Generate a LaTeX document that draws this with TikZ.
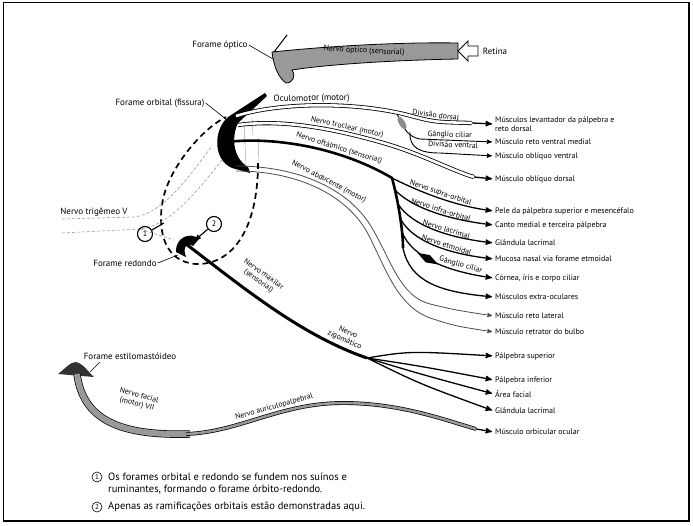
\documentclass[tikz,border=0pt]{standalone}
\usepackage{fontspec}
\setmainfont{PT Sans}
\usetikzlibrary{arrows,positioning,shapes.geometric}

\begin{document}
\begin{tikzpicture}[x=1pt,y=-1pt,>=stealth',
  every node/.style={font=\fontsize{8}{9.5}\selectfont,inner sep=1pt},
  alvo/.style={anchor=west},
  titulo/.style={font=\fontsize{9}{10}\selectfont},
  rotulo/.style={font=\fontsize{7.8}{8.6}\selectfont,align=center,sloped},
  nota/.style={font=\fontsize{10.5}{12}\selectfont,anchor=west,align=left},
  num/.style={draw,circle,line width=1.1pt,minimum size=15pt,inner sep=0pt,font=\fontsize{8}{9}\selectfont},
  numnota/.style={draw,circle,line width=0.6pt,minimum size=10pt,inner sep=0pt,font=\fontsize{7}{8}\selectfont},
  ganglio/.style={diamond,fill,aspect=2.6,inner sep=0pt,minimum width=24pt,minimum height=9pt},
  gangcinza/.style={ellipse,fill=black!45,inner sep=0pt,minimum width=14pt,minimum height=6pt},
  nervo/.style={draw,line width=2.6pt},
  tubo/.style={draw,line width=0.8pt,double=white,double distance=2.6pt},
  ramo/.style={draw,line width=1.3pt,->,shorten >=2pt},
  fino/.style={draw,line width=0.9pt,->,shorten >=2pt},
  abd/.style={draw=black!70,line width=0.8pt,->,shorten >=2pt},
  guia/.style={draw,line width=0.6pt},
  furo/.style={draw,line width=1.7pt,dash pattern=on 6pt off 4pt},
  trig/.style={draw=black!40,line width=0.6pt,densely dashed},
  faixa/.style={draw,line width=0.7pt,double=black!40}]

  \useasboundingbox (0,0) rectangle (693,525);
  % moldura
  \draw[line width=1pt] (3,2) rectangle (689,521);
  \draw[line width=2.5pt] (689,3) -- (689,521) -- (4,521);

  % alvos
  \node[alvo,align=left] (lev)  at (494,124) {Músculos levantador da pálpebra e\\reto dorsal};
  \node[alvo] (rvm)  at (494,142) {Músculo reto ventral medial};
  \node[alvo] (obv)  at (494,156) {Músculo oblíquo ventral};
  \node[alvo] (obd)  at (494,179) {Músculo oblíquo dorsal};
  \node[alvo] (pele) at (494,211) {Pele da pálpebra superior e mesencéfalo};
  \node[alvo] (canto) at (494,225) {Canto medial e terceira pálpebra};
  \node[alvo] (glo)  at (494,243) {Glândula lacrimal};
  \node[alvo] (muc)  at (494,259) {Mucosa nasal via forame etmoidal};
  \node[alvo] (cor)  at (494,278) {Córnea, íris e corpo ciliar};
  \node[alvo] (mex)  at (494,297) {Músculos extra-oculares};
  \node[alvo] (mrl)  at (494,316) {Músculo reto lateral};
  \node[alvo] (mrb)  at (494,332) {Músculo retrator do bulbo};
  \node[alvo] (psup) at (494,356) {Pálpebra superior};
  \node[alvo] (pinf) at (494,380) {Pálpebra inferior};
  \node[alvo] (area) at (494,394) {Área facial};
  \node[alvo] (glz)  at (494,411) {Glândula lacrimal};
  \node[alvo] (orb)  at (494,432) {Músculo orbicular ocular};

  % nervo optico
  \filldraw[fill=black!40,line width=0.8pt] (272,52) .. controls (330,46) and (400,42) .. (458,43)
    -- (458,59) .. controls (400,60) and (330,64) .. (292,70)
    .. controls (296,76) and (293,83) .. (286,83) .. controls (279,78) and (274,68) .. (272,52) -- cycle;
  \draw[line width=1pt] (274,52) -- (287,35);
  \node[rotate=-3] (opt) at (364,51) {Nervo óptico (sensorial)};
  \filldraw[fill=white,line width=0.8pt] (458,51) -- (468,41) -- (468,46) -- (478,46) -- (478,56) -- (468,56) -- (468,61) -- cycle;
  \node[titulo] (ret) at (495,51) {Retina};
  \node[titulo] (fop) at (220,45) {Forame óptico};
  \coordinate (op) at (273,59);
  \draw[guia] (fop.east) -- (op);

  % raiz orbital
  \fill (265,93) -- (228,117) .. controls (213,130) and (213,160) .. (232,168) -- (250,173) -- (248,167)
    .. controls (235,160) and (230,140) .. (238,123) -- (267,96) -- cycle;
  \draw[black!35,line width=0.5pt] (244,121) -- (246,166) (252,118) -- (253,135) (258,138) -- (259,162);
  \node[titulo] (ffo) at (160,103) {Forame orbital (fissura)};
  \coordinate (fo) at (227,120);
  \draw[guia] (ffo.east) -- (fo);

  % oculomotor
  \draw[tubo] (236,116) .. controls (280,102) and (360,101) .. (415,117)
      node[pos=.45,above=1pt,rotulo,font=\fontsize{9}{10}\selectfont] (ocm) {Oculomotor (motor)}
    .. controls (435,122) .. (472,123) node[pos=.45,above=2pt,rotulo] (dd) {Divisão dorsal} coordinate (ocE);
  \draw[ramo] (ocE) -- (lev.west);
  \coordinate (vd) at (397,114);
  \draw[fino] (vd) .. controls (404,126) and (405,136) .. (420,139)
    -- node[pos=.4,above,rotulo] (gc1) {Gânglio ciliar} node[pos=.45,below,rotulo] (dv) {Divisão ventral} (rvm.west);
  \draw[fino] (410,132) .. controls (409,148) and (420,153) .. (440,153) -- (obv.west);
  \node[gangcinza,rotate=-60] (gc0) at (402,123) {};

  % troclear
  \draw[tubo] (238,125) .. controls (275,120) and (320,125) .. (380,142)
      node[pos=.8,above=1pt,rotulo] (tro) {Nervo troclear (motor)}
    .. controls (420,153) and (455,172) .. (474,177) coordinate (trE);
  \draw[ramo] (trE) -- (obd.west);

  % oftalmico
  \draw[nervo] (226,142) .. controls (280,136) and (345,150) .. (392,178) coordinate (of1)
      node[pos=.65,above,rotulo] (oft) {Nervo oftálmico (sensorial)}
    .. controls (398,200) and (403,230) .. (403,248) coordinate (of6);
  \draw[ramo] (of1) .. controls (420,192) and (455,206) .. (pele.west) node[pos=.5,above,rotulo] (sup) {Nervo supra-orbital};
  \draw[ramo] (395,190) .. controls (412,208) and (450,220) .. (canto.west) node[pos=.55,above,rotulo] (inf) {Nervo infra-orbital};
  \draw[ramo] (398,204) .. controls (412,226) and (450,238) .. (glo.west) node[pos=.6,above,rotulo] (lac) {Nervo lacrimal};
  \draw[ramo] (400,218) .. controls (412,242) and (450,254) .. (muc.west) node[pos=.6,above,rotulo] (etm) {Nervo etmoidal};
  \draw[ramo] (402,232) .. controls (412,258) and (450,272) .. (cor.west)
    node[pos=.42,sloped,ganglio] (gg) {} node[pos=.72,above=1pt,rotulo] (gc2) {Gânglio ciliar};
  \draw[ramo] (of6) .. controls (410,282) and (440,292) .. (mex.west);

  % abducente
  \draw[abd] (236,166) .. controls (300,166) and (350,190) .. (372,228)
      node[pos=.55,above,rotulo] (abdu) {Nervo abducente (motor)}
    .. controls (392,262) and (400,296) .. (430,304) .. controls (455,310) .. (mrl.west);
  \draw[abd] (236,171) .. controls (298,171) and (346,195) .. (367,232) .. controls (386,268) and (396,305) .. (430,318)
    .. controls (455,326) .. (mrb.west);

  % forames e trigemeo
  \draw[furo] (258,163) .. controls (258,230) and (232,265) .. (196,264) .. controls (165,262) and (158,232) .. (162,205)
    .. controls (166,172) and (200,130) .. (226,117);
  \draw[trig] (62,219) -- (135,217) .. controls (165,212) and (190,175) .. (212,146);
  \draw[trig] (62,233) -- (140,229) .. controls (170,226) and (198,190) .. (222,160);
  \draw[trig] (140,229) -- (174,240);
  \node[titulo] (tri) at (94,212) {Nervo trigêmeo V};
  \node[num] (n1) at (145,234) {1};
  \coordinate (c1) at (164,223);
  \draw[line width=1.1pt] (n1) -- (c1);
  \node[num] (n2) at (214,224) {2};
  \coordinate (c2) at (195,240);
  \draw[line width=1.1pt,->] (n2) -- (c2);
  \fill (176,252) .. controls (175,238) and (190,231) .. (199,239) -- (193,246)
    .. controls (187,242) and (182,247) .. (186,257) -- cycle;
  \node[titulo] (fre) at (125,263) {Forame redondo};
  \coordinate (re) at (178,255);
  \draw[guia] (fre.east) -- (re);

  % maxilar
  \draw[nervo,line width=3pt] (186,244) .. controls (240,285) and (300,335) .. (367,358) coordinate (zig)
    node[pos=.38,above=8pt,rotulo] (max) {Nervo maxilar\\(sensorial)}
    node[pos=.87,above=2pt,rotulo] (zigo) {Nervo\\zigomático};
  \draw[ramo] (zig) .. controls (410,351) .. (psup.west);
  \draw[ramo] (zig) .. controls (420,366) .. (pinf.west);
  \draw[ramo] (zig) .. controls (420,374) .. (area.west);
  \draw[ramo] (zig) .. controls (420,384) .. (glz.west);

  % facial
  \fill[black!80] (58,374) .. controls (66,368) and (70,362) .. (76,362) .. controls (84,364) and (88,372) .. (94,377) -- cycle;
  \draw[faixa,double distance=6pt] (77,374) .. controls (83,420) and (120,436) .. (190,434);
  \draw[faixa,double distance=2.5pt] (186,434) .. controls (240,432) and (280,403) .. (343,403)
      node[pos=.6,above=2pt,rotulo] (aur) {Nervo auriculopalpebral}
    .. controls (400,403) and (445,420) .. (476,429) coordinate (auE);
  \draw[ramo] (auE) -- (orb.west);
  \node[titulo] (fes) at (130,356) {Forame estilomastóideo};
  \coordinate (es) at (90,372);
  \draw[guia] (100,362) -- (es);
  \node[font=\fontsize{7.8}{8.6}\selectfont,align=center,rotate=-15] (fac) at (138,400) {Nervo facial\\(motor) VII};

  % notas
  \node[numnota] (m1) at (97,477) {1};
  \node[nota] (t1) at (107,483) {Os forames orbital e redondo se fundem nos suínos e\\ruminantes, formando o forame órbito-redondo.};
  \node[numnota] (m2) at (97,507) {2};
  \node[nota] (t2) at (107,507) {Apenas as ramificações orbitais estão demonstradas aqui.};
\end{tikzpicture}
\end{document}
